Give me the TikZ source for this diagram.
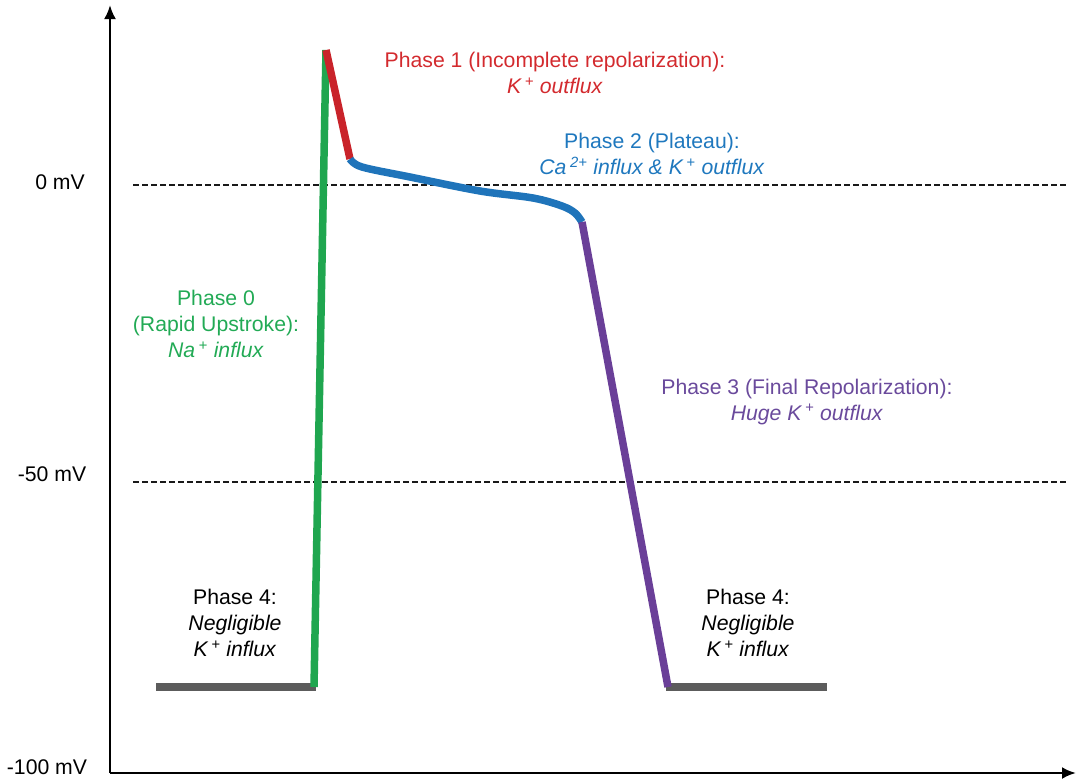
\documentclass[tikz,border=0pt]{standalone}
\usepackage{fontspec}
\setmainfont{Liberation Sans}
\usetikzlibrary{arrows.meta}
\definecolor{pgreen}{HTML}{1FA64F}
\definecolor{pred}{HTML}{C9232A}
\definecolor{pblue}{HTML}{1F74BA}
\definecolor{ppurple}{HTML}{6A3F98}
\definecolor{pgray}{HTML}{5C5C5C}
\definecolor{tgreen}{HTML}{22AA55}
\definecolor{tred}{HTML}{D32A2E}
\definecolor{tblue}{HTML}{1F78BE}
\definecolor{tpurple}{HTML}{6A4A9C}
\newcommand{\ionsup}[1]{\,\textsuperscript{#1}}
\tikzset{
  axisline/.style={line width=2.6pt, black},
  refline/.style={line width=2.1pt, black!90, dash pattern=on 6pt off 3pt},
  trace/.style={line width=7.5pt, line join=round},
  lbl/.style={inner sep=0pt, align=center, font=\fontsize{21.2}{26}\selectfont},
  axlbl/.style={inner sep=0pt, font=\fontsize{21.2}{26}\selectfont}
}
\begin{document}
\begin{tikzpicture}[x=1pt,y=-1pt]
\useasboundingbox (0,0) rectangle (1077,780);
% axes
\coordinate (o) at (110,773);
\coordinate (ytop) at (110,5);
\coordinate (xend) at (1076,773);
\draw[axisline, -{Latex[length=14pt,width=12pt]}] (o) -- (ytop);
\draw[axisline, -{Latex[length=14pt,width=12pt]}] (o) -- (xend);
% reference lines
\coordinate (z0) at (133,185);
\coordinate (z1) at (1068,185);
\coordinate (m0) at (133,482);
\coordinate (m1) at (1068,482);
\draw[refline] (z0) -- (z1);
\draw[refline] (m0) -- (m1);
% axis labels
\node[axlbl] (l0) at (60,182) {0 mV};
\node[axlbl] (l50) at (52,474) {-50 mV};
\node[axlbl] (l100) at (47,767) {-100 mV};
% trace
\coordinate (a) at (156,687);
\coordinate (b) at (314,687);
\coordinate (c) at (326,50);
\coordinate (d) at (350,159);
\coordinate (e) at (582,222);
\coordinate (f) at (668,687);
\coordinate (g) at (827,687);
\draw[trace, pgray] (a) -- ([xshift=2pt]b);
\draw[trace, pgray] ([xshift=-2pt]f) -- (g);
\draw[trace, pgreen] (b) -- (c);
\draw[trace, pred] (c) -- (d);
\draw[trace, pblue] plot[smooth, tension=0.55] coordinates {(d) (362,167) (410,177) (480,191) (533,198) (562,206) (575,213) (e)};
\draw[trace, ppurple] (e) -- (f);
% labels
\node[lbl, text=tred] (p1) at (555,73) {Phase 1 (Incomplete repolarization):\\ \textit{K\ionsup{+} outflux}};
\node[lbl, text=tblue] (p2) at (652,154) {Phase 2 (Plateau):\\ \textit{Ca\ionsup{2+} influx \& K\ionsup{+} outflux}};
\node[lbl, text=tgreen] (p0) at (216,324) {Phase 0\\ (Rapid Upstroke):\\ \textit{Na\ionsup{+} influx}};
\node[lbl, text=tpurple] (p3) at (807,402) {Phase 3 (Final Repolarization):\\ \textit{Huge K\ionsup{+} outflux}};
\node[lbl] (p4a) at (235,623) {Phase 4:\\ \textit{Negligible}\\ \textit{K\ionsup{+} influx}};
\node[lbl] (p4b) at (748,623) {Phase 4:\\ \textit{Negligible}\\ \textit{K\ionsup{+} influx}};
\end{tikzpicture}
\end{document}
